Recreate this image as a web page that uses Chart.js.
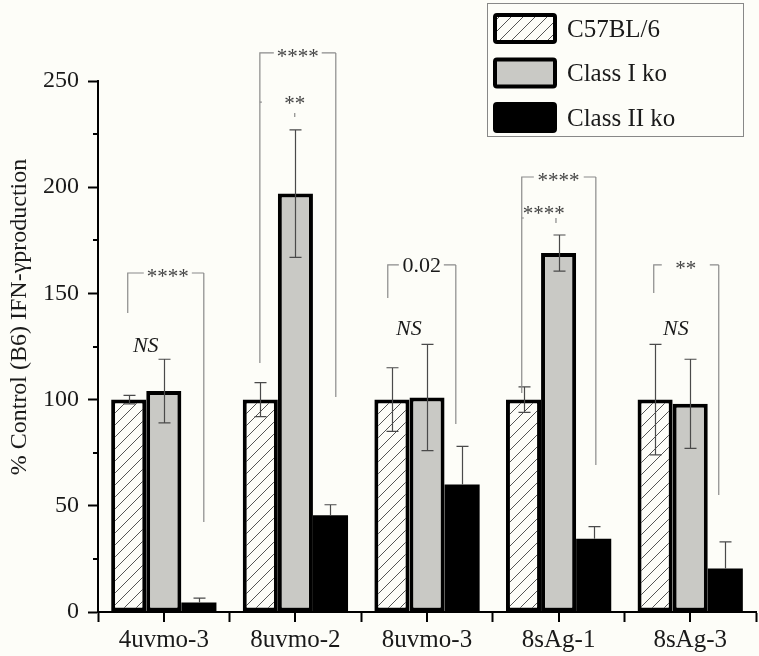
<!DOCTYPE html>
<html><head><meta charset="utf-8">
<script src="https://cdn.jsdelivr.net/npm/chart.js@4/dist/chart.umd.min.js"></script>
<style>html,body{margin:0;padding:0;background:#fdfdf8;}</style>
</head><body>
<canvas id="c" width="759" height="656" style="display:block;width:759px;height:656px"></canvas>
<script>
// ---- data ----
const categories = ['4uvmo-3', '8uvmo-2', '8uvmo-3', '8sAg-1', '8sAg-3'];
const seriesNames = ['C57BL/6', 'Class I ko', 'Class II ko'];
const c57Values = [100, 100, 100, 100, 100];
const c57Errors = [2, 8, 15, 6, 26];
const classIValues = [104, 197, 101, 169, 98];
const classIErrors = [15, 30, 25, 8.5, 21];
const classIIValues = [4.5, 45.5, 60, 34.5, 20.5];
const classIIErrors = [2, 5, 18, 5.7, 12.5];
const yMin = 0, yMax = 250, yMajorStep = 50, yMinorStep = 25;
const yTitle = '% Control (B6) IFN-\u03B3production';
// significance annotations (category index + offset in category units, values in data units)
const bracketCats   = [0, 1, 1, 2, 3, 3, 4];
const bracketLabels = ['****', '****', '**', '0.02', '****', '****', '**'];
const bracketX1     = [-0.274, -0.27, -0.27, -0.298, -0.28, -0.28, -0.277];
const bracketX2     = [0.304, 0.307, -0.005, 0.219, 0.283, -0.02, 0.217];
const bracketTop    = [159.6, 263.2, 240.1, 163.4, 204.8, 185.5, 163.4];
const bracketLeftEnd  = [140.8, 117.2, 240.1, 147.8, 103.1, 185.5, 150.2];
const bracketRightTop = [159.6, 263.2, 234.9, 163.4, 204.8, 185.5, 163.4];
const bracketRightEnd = [42.4, 101.2, 233.1, 88.5, 69.2, 183.1, 55.1];
const bracketGapL   = [-0.152, -0.164, -0.255, -0.214, -0.188, -0.264, -0.216];
const bracketGapR   = [0.213, 0.20, -0.005, 0.128, 0.191, -0.02, 0.149];
const bracketLabelX = [0.03, 0.018, -0.005, -0.04, 0, -0.112, -0.033];
const bracketLabelY = [159.6, 263.2, 241, 163.4, 204.8, 189.3, 163.4];
const nsCats = [0, 2, 4];
const nsX = [-0.137, -0.138, -0.109];
const nsY = [125.7, 133.7, 133.7];
const nsText = 'NS';

// ---- styles ----
const BG = '#fdfdf8';
const FONT = "'Liberation Serif', 'DejaVu Serif', serif";
const TEXT = '#1a1a1a';
const GRAY_FILL = '#c9c9c5';

function makeHatch() {
  const s = 12;
  const cv = document.createElement('canvas');
  cv.width = s; cv.height = s;
  const g = cv.getContext('2d');
  g.fillStyle = BG; g.fillRect(0, 0, s, s);
  g.strokeStyle = '#555'; g.lineWidth = 1;
  g.beginPath();
  g.moveTo(0, s); g.lineTo(s, 0);
  g.moveTo(-2, 2); g.lineTo(2, -2);
  g.moveTo(s - 2, s + 2); g.lineTo(s + 2, s - 2);
  g.stroke();
  return g.createPattern(cv, 'repeat');
}
const hatch = makeHatch();

const bgPlugin = {
  id: 'bg',
  beforeDraw(chart) {
    const ctx = chart.ctx;
    ctx.save(); ctx.fillStyle = BG; ctx.fillRect(0, 0, chart.width, chart.height); ctx.restore();
  }
};

const axisExtras = {
  id: 'axisExtras',
  afterDraw(chart) {
    const ctx = chart.ctx, ys = chart.scales.y, xs = chart.scales.x;
    ctx.save();
    ctx.strokeStyle = '#000'; ctx.lineWidth = 2;
    // minor y ticks
    for (let v = yMin + yMinorStep; v < yMax; v += yMajorStep) {
      const py = Math.round(ys.getPixelForValue(v));
      ctx.beginPath(); ctx.moveTo(ys.right - 5, py); ctx.lineTo(ys.right, py); ctx.stroke();
    }
    // x ticks at category centres
    categories.forEach((c, i) => {
      const px = Math.round(xs.getPixelForValue(i));
      ctx.beginPath(); ctx.moveTo(px, xs.top); ctx.lineTo(px, xs.top + 10); ctx.stroke();
    });
    // y title
    ctx.fillStyle = TEXT;
    ctx.font = '24px ' + FONT;
    ctx.textAlign = 'center'; ctx.textBaseline = 'middle';
    ctx.translate(20, 317); ctx.rotate(-Math.PI / 2);
    ctx.fillText(yTitle, 0, 0);
    ctx.restore();
  }
};

const errorBars = {
  id: 'errorBars',
  afterDatasetsDraw(chart) {
    const ctx = chart.ctx, ys = chart.scales.y;
    ctx.save();
    ctx.strokeStyle = '#4a4a4a'; ctx.lineWidth = 1.2;
    chart.data.datasets.forEach((ds, d) => {
      const meta = chart.getDatasetMeta(d);
      meta.data.forEach((el, i) => {
        const v = ds.data[i], e = ds.errors[i];
        const x = Math.round(el.x) + 0.5;
        const yt = ys.getPixelForValue(v + e);
        const yb = ds.errLower ? ys.getPixelForValue(v - e) : ys.getPixelForValue(v);
        ctx.beginPath();
        ctx.moveTo(x, yt); ctx.lineTo(x, yb);
        ctx.moveTo(x - 6, yt); ctx.lineTo(x + 6, yt);
        if (ds.errLower) { ctx.moveTo(x - 6, yb); ctx.lineTo(x + 6, yb); }
        ctx.stroke();
      });
    });
    ctx.restore();
  }
};

const annotations = {
  id: 'annotations',
  afterDraw(chart) {
    const ctx = chart.ctx, xs = chart.scales.x, ys = chart.scales.y;
    const X = (c, o) => xs.getPixelForValue(c + o);
    const Y = v => ys.getPixelForValue(v);
    ctx.save();
    ctx.strokeStyle = '#8a8a8a'; ctx.lineWidth = 1.2;
    bracketCats.forEach((c, k) => {
      const x1 = X(c, bracketX1[k]), x2 = X(c, bracketX2[k]);
      const top = Y(bracketTop[k]);
      ctx.beginPath();
      ctx.moveTo(x1, Y(bracketLeftEnd[k])); ctx.lineTo(x1, top);
      ctx.lineTo(X(c, bracketGapL[k]), top);
      if (bracketGapR[k] < bracketX2[k]) {
        ctx.moveTo(X(c, bracketGapR[k]), top); ctx.lineTo(x2, top);
      }
      ctx.moveTo(x2, Y(bracketRightTop[k])); ctx.lineTo(x2, Y(bracketRightEnd[k]));
      ctx.stroke();
      const lbl = bracketLabels[k];
      const isStar = lbl.indexOf('*') >= 0;
      ctx.textAlign = 'center'; ctx.textBaseline = 'alphabetic';
      if (isStar) {
        ctx.font = '21px ' + FONT; ctx.fillStyle = '#444';
        ctx.fillText(lbl, X(c, bracketLabelX[k]), Y(bracketLabelY[k]) + 0.47 * 21);
      } else {
        ctx.font = '22px ' + FONT; ctx.fillStyle = TEXT;
        ctx.fillText(lbl, X(c, bracketLabelX[k]), Y(bracketLabelY[k]) + 0.34 * 22);
      }
    });
    ctx.font = 'italic 22px ' + FONT; ctx.fillStyle = TEXT;
    ctx.textAlign = 'center'; ctx.textBaseline = 'alphabetic';
    nsCats.forEach((c, k) => {
      ctx.fillText(nsText, X(c, nsX[k]), Y(nsY[k]) + 0.33 * 22);
    });
    ctx.restore();
  }
};

const legendBox = {
  id: 'legendBox',
  afterDraw(chart) {
    const ctx = chart.ctx;
    ctx.save();
    ctx.strokeStyle = '#888'; ctx.lineWidth = 1;
    ctx.strokeRect(487.5, 3.5, 256, 133);
    chart.data.datasets.forEach((ds, i) => {
      const top = 13 + i * 44.5;
      ctx.beginPath();
      ctx.roundRect(495, top + 2, 60, 27, 2);
      ctx.fillStyle = ds.backgroundColor; ctx.fill();
      ctx.lineWidth = 4; ctx.strokeStyle = '#000'; ctx.stroke();
      ctx.fillStyle = TEXT; ctx.font = '25px ' + FONT;
      ctx.textAlign = 'left'; ctx.textBaseline = 'middle';
      ctx.fillText(ds.label, 567, top + 17);
    });
    ctx.restore();
  }
};

new Chart(document.getElementById('c'), {
  type: 'bar',
  data: {
    labels: categories,
    datasets: [
      { label: seriesNames[0], data: c57Values, errors: c57Errors, errLower: true,
        backgroundColor: hatch, borderColor: '#000', borderWidth: 4, borderSkipped: false },
      { label: seriesNames[1], data: classIValues, errors: classIErrors, errLower: true,
        backgroundColor: GRAY_FILL, borderColor: '#000', borderWidth: 4, borderSkipped: false },
      { label: seriesNames[2], data: classIIValues, errors: classIIErrors, errLower: false,
        backgroundColor: '#000', borderColor: '#000', borderWidth: 0, borderSkipped: false }
    ]
  },
  options: {
    responsive: false,
    devicePixelRatio: 1,
    animation: false,
    barPercentage: 1,
    categoryPercentage: 0.8,
    layout: { padding: { top: 81, right: 3, left: 0, bottom: 0 } },
    plugins: { legend: { display: false }, tooltip: { enabled: false } },
    scales: {
      x: {
        offset: true,
        grid: { display: true, offset: true, drawOnChartArea: false, drawTicks: true,
                tickLength: 10, tickColor: '#000', tickWidth: 2, color: '#000' },
        border: { display: true, color: '#000', width: 2 },
        ticks: { font: { family: FONT, size: 25 }, color: TEXT, padding: 3, maxRotation: 0 },
        afterFit: s => { s.height = 44; }
      },
      y: {
        min: yMin, max: yMax,
        grid: { display: true, drawOnChartArea: false, drawTicks: true, tickLength: 10,
                tickWidth: 2, tickColor: '#000' },
        border: { display: true, color: '#000', width: 2 },
        ticks: { stepSize: yMajorStep, font: { family: FONT, size: 24 }, color: TEXT, padding: 9 },
        afterFit: s => { s.width = 98; }
      }
    }
  },
  plugins: [bgPlugin, errorBars, axisExtras, annotations, legendBox]
});
</script>
</body></html>
